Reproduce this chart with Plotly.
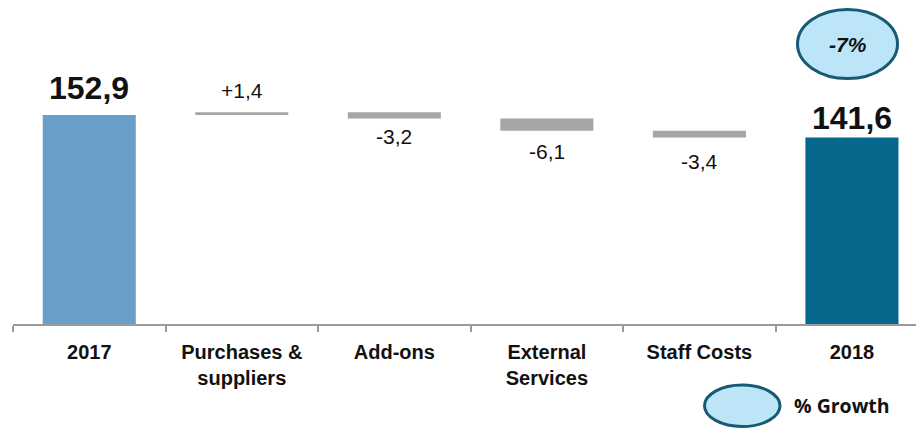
import plotly.graph_objects as go

# Cost bridge 2017 -> 2018
categories = ["2017", "Purchases &<br>suppliers", "Add-ons", "External<br>Services", "Staff Costs", "2018"]
measures = ["total", "delta", "delta", "delta", "delta", "total"]
values = [152.9, 1.4, -3.2, -6.1, -3.4, 141.6]
growth_label = "-7%"
legend_label = "% Growth"

TOTAL_COLORS = {"2017": "#6A9FCA", "2018": "#05678B"}
DELTA_COLOR = "#A6A6A6"
OUTLINE = "#175A74"
FILL = "#BDE5F8"

# pixel offsets of the value labels from the bar end they describe
label_shift = [27, 22, -18, -21, -24, 20]

W, H = 916, 429
ML, MR, MT, MB = 13, 0, 0, 105
PW, PH = W - ML - MR, H - MT - MB


def fmt(v, signed):
    s = f"{v:+.1f}" if signed else f"{v:.1f}"
    return s.replace(".", ",")


fig = go.Figure()
running = 0.0
annotations = []
for i, (cat, m, v) in enumerate(zip(categories, measures, values)):
    if m == "total":
        base, height, color = 0.0, v, TOTAL_COLORS[cat]
        running = v
        end = v
        text = fmt(v, False)
        font = dict(family="Liberation Sans", size=32, color="#111111", weight="bold")
    else:
        base, height, color = running, v, DELTA_COLOR
        running = running + v
        end = max(base, running) if v > 0 else min(base, running)
        text = fmt(v, True)
        font = dict(family="Liberation Sans", size=21, color="#111111")
    fig.add_trace(go.Bar(
        x=[cat], y=[height], base=[base],
        marker=dict(color=color, line=dict(width=0)),
        width=0.61, hoverinfo="skip", showlegend=False,
    ))
    # category position given by index so that year names are not read as numbers
    annotations.append(dict(
        x=i, y=end, xref="x", yref="y", text=text, showarrow=False,
        xanchor="center", yanchor="middle", yshift=label_shift[i], font=font,
    ))


def px_x(p):
    return (p - ML) / PW


def px_y(p):
    return (MT + PH - p) / PH


# growth bubble over the 2018 bar and its key below the axis
fig.add_shape(type="circle", xref="paper", yref="paper",
              x0=px_x(797.5), x1=px_x(897.5), y0=px_y(78.5), y1=px_y(9.5),
              line=dict(color=OUTLINE, width=3), fillcolor=FILL, layer="above")
fig.add_shape(type="circle", xref="paper", yref="paper",
              x0=px_x(704.5), x1=px_x(780), y0=px_y(426.5), y1=px_y(385),
              line=dict(color=OUTLINE, width=3), fillcolor=FILL, layer="above")
annotations.append(dict(
    x=px_x(847.5), y=px_y(44), xref="paper", yref="paper", text=growth_label,
    showarrow=False, xanchor="center", yanchor="middle",
    font=dict(family="Liberation Sans", size=21, color="#111111", weight="bold", style="italic"),
))
annotations.append(dict(
    x=px_x(792), y=px_y(405), xref="paper", yref="paper", text=legend_label,
    showarrow=False, xanchor="left", yanchor="middle",
    font=dict(family="Open Sans", size=19.5, color="#111111", weight="bold"),
))

fig.update_layout(
    width=W, height=H,
    margin=dict(l=ML, r=MR, t=MT, b=MB, pad=0),
    paper_bgcolor="white", plot_bgcolor="white",
    barmode="overlay",
    annotations=annotations,
    xaxis=dict(
        type="category", categoryorder="array", categoryarray=categories,
        range=[-0.5, 5.42], tickson="boundaries",
        ticks="outside", ticklen=6, tickcolor="#9A9A9A", tickwidth=1.5,
        showline=True, linecolor="#9A9A9A", linewidth=1.5,
        showgrid=False, zeroline=False, fixedrange=True,
        ticklabelstandoff=9,
        tickfont=dict(family="Liberation Sans", size=20, color="#111111", weight="bold"),
    ),
    yaxis=dict(range=[48.4, 210.4], visible=False, showgrid=False, zeroline=False, fixedrange=True),
)

fig.write_html("out.html", config={"displayModeBar": False})
